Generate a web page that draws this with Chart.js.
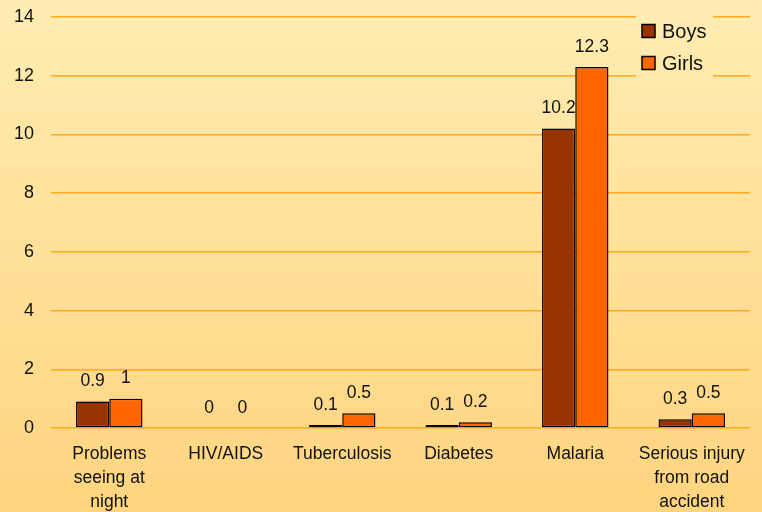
<!DOCTYPE html>
<html lang="en">
<head>
  <meta charset="UTF-8">
  <title>Health problems - Boys and Girls</title>
  <script src="https://cdn.jsdelivr.net/npm/chart.js"></script>
  <style>
    html, body { margin: 0; padding: 0; }
    #wrap { width: 762px; height: 512px; }
  </style>
</head>
<body>
  <div id="wrap"><canvas id="myChart" width="762" height="512"></canvas></div>

  <script>
    // Dados do gráfico
    const categories = [
      ['Problems', 'seeing at', 'night'],
      'HIV/AIDS',
      'Tuberculosis',
      'Diabetes',
      'Malaria',
      ['Serious injury', 'from road', 'accident']
    ];
    const boys = [0.9, 0, 0.1, 0.1, 10.2, 0.3];
    const girls = [1, 0, 0.5, 0.2, 12.3, 0.5];
    const yTicks = [0, 2, 4, 6, 8, 10, 12, 14];

    const FONT = 'Liberation Sans, Arial, sans-serif';

    function bgGradient(ctx, h) {
      const g = ctx.createLinearGradient(0, 0, 0, h);
      g.addColorStop(0, '#FFEDB2');
      g.addColorStop(1, '#FFD47F');
      return g;
    }

    // Fundo em degradê
    const background = {
      id: 'background',
      beforeDraw(chart) {
        const c = chart.ctx;
        c.save();
        c.fillStyle = bgGradient(c, chart.height);
        c.fillRect(0, 0, chart.width, chart.height);
        c.restore();
      }
    };

    // Rótulos de valor acima das barras
    const valueLabels = {
      id: 'valueLabels',
      afterDatasetsDraw(chart) {
        const c = chart.ctx;
        c.save();
        c.font = '17.5px ' + FONT;
        c.fillStyle = '#111';
        c.textAlign = 'center';
        c.textBaseline = 'middle';
        chart.data.datasets.forEach((ds, i) => {
          chart.getDatasetMeta(i).data.forEach((bar, j) => {
            c.fillText(String(ds.data[j]), bar.x, bar.y - 20);
          });
        });
        c.restore();
      }
    };

    // Legenda desenhada à mão, dentro da área do gráfico
    const boxLegend = {
      id: 'boxLegend',
      afterDraw(chart) {
        const c = chart.ctx;
        const x = 636, y = 8, w = 77, h = 76;
        c.save();
        c.fillStyle = bgGradient(c, chart.height);
        c.fillRect(x, y, w, h);
        c.font = '20px ' + FONT;
        c.textBaseline = 'middle';
        chart.data.datasets.forEach((ds, i) => {
          const cy = 31 + i * 32;
          c.fillStyle = ds.backgroundColor;
          c.fillRect(642, cy - 6.5, 13, 13);
          c.strokeStyle = '#000';
          c.lineWidth = 1.5;
          c.strokeRect(642, cy - 6.5, 13, 13);
          c.fillStyle = '#111';
          c.fillText(ds.label, 662, cy + 1);
        });
        c.restore();
      }
    };

    const ctx = document.getElementById('myChart').getContext('2d');
    const myChart = new Chart(ctx, {
      type: 'bar',
      data: {
        labels: categories,
        datasets: [{
          label: 'Boys',
          data: boys,
          backgroundColor: '#993300',
          borderColor: '#000',
          borderWidth: 1.5,
          borderSkipped: false
        }, {
          label: 'Girls',
          data: girls,
          backgroundColor: '#FF6600',
          borderColor: '#000',
          borderWidth: 1.5,
          borderSkipped: false
        }]
      },
      options: {
        responsive: false,
        animation: false,
        layout: { padding: { top: 17, right: 12, left: 0, bottom: 0 } },
        datasets: { bar: { barPercentage: 1, categoryPercentage: 0.57 } },
        plugins: {
          legend: { display: false },
          tooltip: { enabled: false }
        },
        scales: {
          x: {
            grid: { display: false },
            border: { display: false },
            afterFit(axis) { axis.height = 84; },
            ticks: {
              color: '#111',
              font: { family: FONT, size: 17.5, lineHeight: 1.37 },
              maxRotation: 0,
              autoSkip: false,
              padding: 6
            }
          },
          y: {
            min: 0,
            max: 14,
            afterBuildTicks(axis) {
              axis.ticks = yTicks.map(v => ({ value: v }));
            },
            afterFit(axis) {
              axis.width = 51;
              axis.paddingTop = 0;
              axis.paddingBottom = 0;
            },
            grid: { color: '#FFA820', lineWidth: 1.5, drawTicks: false },
            border: { display: false },
            ticks: {
              color: '#111',
              font: { family: FONT, size: 18 },
              padding: 17
            }
          }
        }
      },
      plugins: [background, valueLabels, boxLegend]
    });
  </script>
</body>
</html>
